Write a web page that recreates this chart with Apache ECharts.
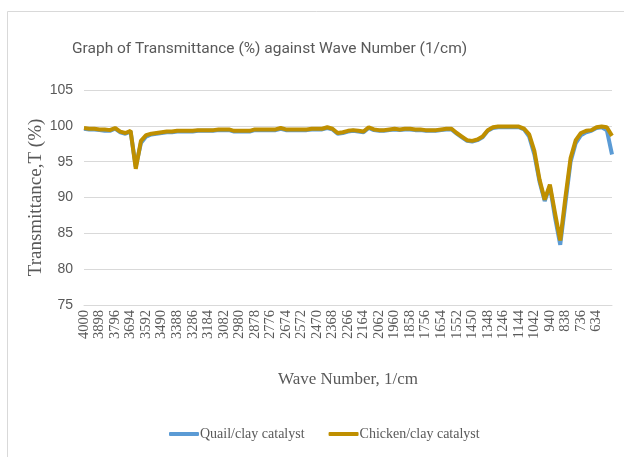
<!DOCTYPE html>
<html>
<head>
<meta charset="utf-8">
<script src="https://cdn.jsdelivr.net/npm/echarts@6/dist/echarts.min.js"></script>
<style>
  html, body { margin: 0; padding: 0; background: #fff; }
  #chart { width: 624px; height: 457px; }
</style>
</head>
<body>
<div id="chart"></div>
<script>
// wave numbers (1/cm), one every 34
var waveNumbers = [4000, 3966, 3932, 3898, 3864, 3830, 3796, 3762, 3728, 3694, 3660, 3626, 3592, 3558, 3524,
  3490, 3456, 3422, 3388, 3354, 3320, 3286, 3252, 3218, 3184, 3150, 3116, 3082, 3048, 3014, 2980, 2946, 2912,
  2878, 2844, 2810, 2776, 2742, 2708, 2674, 2640, 2606, 2572, 2538, 2504, 2470, 2436, 2402, 2368, 2334, 2300,
  2266, 2232, 2198, 2164, 2130, 2096, 2062, 2028, 1994, 1960, 1926, 1892, 1858, 1824, 1790, 1756, 1722, 1688,
  1654, 1620, 1586, 1552, 1518, 1484, 1450, 1416, 1382, 1348, 1314, 1280, 1246, 1212, 1178, 1144, 1110, 1076,
  1042, 1008, 974, 940, 906, 872, 838, 804, 770, 736, 702, 668, 634, 600, 566, 532];

var quail = [99.6, 99.5, 99.5, 99.4, 99.3, 99.3, 99.6, 99.1, 98.9, 99.2, 94.3, 97.6, 98.5, 98.8, 98.9,
  99.0, 99.1, 99.1, 99.2, 99.2, 99.2, 99.2, 99.3, 99.3, 99.3, 99.3, 99.4, 99.4, 99.4, 99.2, 99.2, 99.2, 99.2,
  99.4, 99.4, 99.4, 99.4, 99.4, 99.6, 99.4, 99.4, 99.4, 99.4, 99.4, 99.5, 99.5, 99.5, 99.7, 99.5, 98.9, 99.0,
  99.2, 99.3, 99.2, 99.1, 99.7, 99.4, 99.3, 99.3, 99.4, 99.5, 99.4, 99.5, 99.5, 99.4, 99.4, 99.3, 99.3, 99.3,
  99.4, 99.5, 99.5, 98.9, 98.4, 97.9, 97.8, 98.0, 98.4, 99.3, 99.7, 99.8, 99.8, 99.8, 99.8, 99.8, 99.5, 98.5,
  96.0, 92.2, 89.5, 91.6, 87.2, 83.4, 89.2, 95.0, 97.6, 98.7, 99.1, 99.3, 99.7, 99.8, 99.4, 96.0];

var chicken = [99.7, 99.6, 99.6, 99.5, 99.5, 99.4, 99.7, 99.2, 99.0, 99.3, 94.0, 97.9, 98.7, 98.9, 99.0,
  99.1, 99.2, 99.2, 99.3, 99.3, 99.3, 99.3, 99.4, 99.4, 99.4, 99.4, 99.5, 99.5, 99.5, 99.3, 99.3, 99.3, 99.3,
  99.5, 99.5, 99.5, 99.5, 99.5, 99.7, 99.5, 99.5, 99.5, 99.5, 99.5, 99.6, 99.6, 99.6, 99.8, 99.6, 99.0, 99.1,
  99.3, 99.4, 99.3, 99.2, 99.8, 99.5, 99.4, 99.4, 99.5, 99.6, 99.5, 99.6, 99.6, 99.5, 99.5, 99.4, 99.4, 99.4,
  99.5, 99.6, 99.6, 99.0, 98.5, 98.0, 97.9, 98.1, 98.5, 99.4, 99.8, 99.9, 99.9, 99.9, 99.9, 99.9, 99.6, 98.8,
  96.5, 92.5, 89.7, 91.8, 87.8, 84.0, 90.0, 95.5, 98.0, 99.0, 99.3, 99.4, 99.8, 99.9, 99.8, 98.6];

var yTicks = [75, 80, 85, 90, 95, 100, 105];

var chart = echarts.init(document.getElementById('chart'));
chart.setOption({
  animation: false,
  backgroundColor: '#fff',
  graphic: [{
    type: 'rect',
    shape: {x: 7.5, y: 11.5, width: 700, height: 500},
    style: {fill: 'none', stroke: '#d9d9d9', lineWidth: 1},
    silent: true
  }],
  title: {
    text: 'Graph of Transmittance (%) against Wave Number (1/cm)',
    left: 67,
    top: 36,
    textStyle: {
      fontFamily: 'Roboto, sans-serif',
      fontSize: 15.5,
      fontWeight: 'normal',
      color: '#595959'
    }
  },
  legend: {
    left: 164,
    top: 422,
    itemWidth: 30,
    itemHeight: 4,
    itemGap: 24,
    icon: 'roundRect',
    textStyle: {
      fontFamily: '"Liberation Serif", serif',
      fontSize: 14,
      color: '#595959',
      padding: [0, 0, 0, -4]
    },
    data: ['Quail/clay catalyst', 'Chicken/clay catalyst']
  },
  grid: {left: 84, right: 12, top: 90, bottom: 152},
  xAxis: {
    type: 'category',
    data: waveNumbers,
    boundaryGap: false,
    name: 'Wave Number, 1/cm',
    nameLocation: 'middle',
    nameGap: 66,
    nameTextStyle: {fontFamily: '"Liberation Serif", serif', fontSize: 17, color: '#595959'},
    axisLine: {lineStyle: {color: '#d9d9d9'}},
    axisTick: {show: false},
    axisLabel: {
      rotate: 90,
      margin: 5,
      interval: function (idx) { return idx % 3 === 0 && idx <= 99; },
      fontFamily: '"Liberation Serif", serif',
      fontSize: 14.5,
      color: '#595959'
    }
  },
  yAxis: {
    type: 'value',
    min: yTicks[0],
    max: yTicks[yTicks.length - 1],
    interval: 5,
    name: 'Transmittance,T (%)',
    nameLocation: 'middle',
    nameGap: 38,
    nameMoveOverlap: false,
    nameTextStyle: {fontFamily: '"Liberation Serif", serif', fontSize: 19, color: '#595959'},
    axisLine: {show: false},
    axisTick: {show: false},
    splitLine: {lineStyle: {color: '#d9d9d9'}},
    axisLabel: {
      margin: 11,
      fontFamily: '"Liberation Sans", sans-serif',
      fontSize: 14,
      color: '#595959'
    }
  },
  series: [{
    name: 'Quail/clay catalyst',
    type: 'line',
    data: quail,
    showSymbol: false,
    color: '#5b9bd5',
    lineStyle: {width: 4, color: '#5b9bd5'}
  }, {
    name: 'Chicken/clay catalyst',
    type: 'line',
    data: chicken,
    showSymbol: false,
    color: '#bf8f00',
    lineStyle: {width: 4, color: '#bf8f00'}
  }]
});
</script>
</body>
</html>
